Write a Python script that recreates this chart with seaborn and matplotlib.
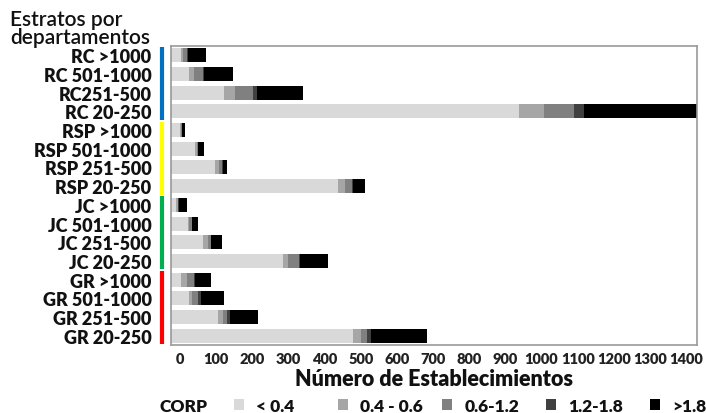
import matplotlib
matplotlib.use("Agg")
import matplotlib.pyplot as plt
from matplotlib.patches import Patch
from matplotlib.transforms import ScaledTranslation
import seaborn as sns
import pandas as pd
import numpy as np

categories = ["RC >1000", "RC 501-1000", "RC251-500", "RC 20-250",
              "RSP >1000", "RSP 501-1000", "RSP 251-500", "RSP 20-250",
              "JC >1000", "JC 501-1000", "JC 251-500", "JC 20-250",
              "GR >1000", "GR 501-1000", "GR 251-500", "GR 20-250"]
series_names = ["< 0.4", "0.4 - 0.6", "0.6-1.2", "1.2-1.8", ">1.8"]
lt04 =    [27, 49, 146, 963, 26, 67, 122, 461, 15, 46, 89, 309, 29, 50, 130, 503]
s04_06 =  [6, 14, 31, 69, 2, 5, 11, 21, 3, 5, 12, 14, 16, 9, 14, 23]
s06_12 =  [12, 25, 51, 84, 2, 3, 9, 19, 2, 6, 9, 30, 19, 17, 12, 16]
s12_18 =  [2, 3, 10, 27, 1, 1, 2, 3, 1, 1, 2, 3, 2, 6, 6, 12]
gt18 =    [49, 80, 126, 312, 9, 14, 11, 33, 23, 18, 29, 78, 46, 64, 79, 155]
colors = ["#d9d9d9", "#a6a6a6", "#808080", "#404040", "#000000"]
groups = ["RC", "RSP", "JC", "GR"]
group_colors = ["#0070c0", "#ffff00", "#00b050", "#ff0000"]
xticks = list(range(0, 1500, 100))
xmax = 1455

series = [lt04, s04_06, s06_12, s12_18, gt18]
df = pd.DataFrame({"estrato": categories})
cum = np.zeros(len(categories))
for name, vals in zip(series_names, series):
    cum = cum + np.array(vals)
    df[name] = cum

sns.set_theme(style="white")
plt.rcParams["font.family"] = ["Lato", "DejaVu Sans"]

fig = plt.figure(figsize=(7.06, 4.14), dpi=100)
ax = fig.add_axes([171/706, 1-346/414, 526/706, 299/414])

for name, col in reversed(list(zip(series_names, colors))):
    sns.barplot(data=df, x=name, y="estrato", color=col, orient="h",
                width=0.75, ax=ax, saturation=1, edgecolor="none")

ax.set_xlim(0, xmax)
ax.set_ylim(15.5, -0.5)
ax.set_xticks(xticks)
ax.tick_params(axis="x", length=0, pad=5)
ax.tick_params(axis="y", length=0, pad=14)
ax.set_xticklabels([str(t) for t in xticks], fontsize=10.5, fontweight="heavy", color="#222222")
for lab in ax.get_yticklabels():
    lab.set_fontsize(13)
    lab.set_fontweight("heavy")
    lab.set_color("#111111")
ax.set_ylabel("")
ax.set_xlabel("Número de Establecimientos", fontsize=15.5, fontweight="heavy",
              color="#111111", labelpad=2)
for s in ax.spines.values():
    s.set_color("#999999")
    s.set_linewidth(1.2)

# group colour markers
trans = ax.get_yaxis_transform()
for i, (g, gc) in enumerate(zip(groups, group_colors)):
    y0 = i * 4 - 0.45
    y1 = i * 4 + 3 + 0.45
    ax.plot([-0.017, -0.017], [y0, y1], color=gc, lw=3, transform=trans,
            clip_on=False, solid_capstyle="butt")

fig.text(10/706, 1-29/414, "Estratos por\ndepartamentos", fontsize=15, fontweight="semibold",
         color="#111111", va="center", ha="left", linespacing=0.85)

fig.text(160/706, 1-407/414, "CORP", fontsize=12.5, fontweight="heavy",
         color="#111111", va="center", ha="left")
for k, (n, c) in enumerate(zip(series_names, colors)):
    h = [Patch(facecolor=c, edgecolor="none", label=n)]
    leg = fig.legend(handles=h, loc="center left",
                     bbox_to_anchor=((234 + 104 * k) / 706, 1-407/414),
                     frameon=False, handlelength=0.58, handleheight=0.58,
                     handletextpad=0.7, borderaxespad=0, borderpad=0,
                     prop={"family": ["Lato", "DejaVu Sans"], "weight": "heavy", "size": 12.5})
    for t in leg.get_texts():
        t.set_color("#111111")

# shift x tick labels right like the reference
off = ScaledTranslation(9/100, 0, fig.dpi_scale_trans)
for lab in ax.get_xticklabels():
    lab.set_transform(lab.get_transform() + off)

fig.savefig("out.png", dpi=100)
